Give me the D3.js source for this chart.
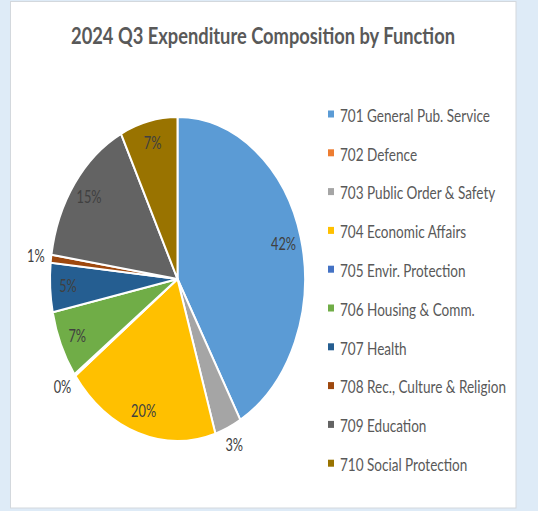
<!DOCTYPE html>
<html>
<head>
<meta charset="utf-8">
<script src="https://cdn.jsdelivr.net/npm/d3@7"></script>
<style>
  html, body { margin: 0; padding: 0; background: #deebf7; }
  svg { display: block; }
</style>
</head>
<body>
<svg id="chart" width="538" height="511"></svg>
<script>
const title = "2024 Q3 Expenditure Composition by Function";
const categories = [
  "701 General Pub. Service",
  "702 Defence",
  "703 Public Order & Safety",
  "704 Economic Affairs",
  "705 Envir. Protection",
  "706 Housing & Comm.",
  "707 Health",
  "708 Rec., Culture & Religion",
  "709 Education",
  "710 Social Protection"
];
const values = [41.8, 0, 3.4, 19.6, 0.2, 6.7, 4.9, 0.8, 15.3, 7.3];
const colors = ["#5b9bd5", "#ed7d31", "#a5a5a5", "#ffc000", "#4472c4",
                "#70ad47", "#255e91", "#9e480e", "#636363", "#997300"];

const W = 538, H = 511;
const FONT = "Lato, 'Open Sans', sans-serif";
const svg = d3.select("#chart");

// background panel
svg.append("rect").attr("width", W).attr("height", H).attr("fill", "#deebf7");
svg.append("rect")
  .attr("x", 10.5).attr("y", 1.5).attr("width", 505.5).attr("height", 506.5)
  .attr("fill", "#ffffff").attr("stroke", "#d3d8dd").attr("stroke-width", 1);

// helper: compress text horizontally to a target width
function squeeze(sel, x, y, sx) {
  sel.attr("transform", `translate(${x},${y}) scale(${sx},1)`);
}

// title
const t = svg.append("text")
  .attr("text-anchor", "middle")
  .attr("dy", "0.36em")
  .attr("font-family", FONT)
  .attr("font-weight", "bold")
  .attr("font-size", 22.4)
  .attr("fill", "#595959")
  .text(title);
const tsx = 384 / t.node().getComputedTextLength();
squeeze(t, 263, 35.5, tsx);

// pie
const cx = 177.5, cy = 279, R = 127.5, ky = 1.27;
const pie = d3.pie().sort(null).value(d => d.v).startAngle(0).endAngle(2 * Math.PI);
const data = values.map((v, i) => ({ v, i, name: categories[i] }));
const arcs = pie(data);
const arc = d3.arc().innerRadius(0).outerRadius(R);

const g = svg.append("g").attr("transform", `translate(${cx},${cy}) scale(1,${ky})`);
g.selectAll("path")
  .data(arcs.filter(d => d.data.v > 0))
  .join("path")
  .attr("d", arc)
  .attr("fill", d => colors[d.data.i])
  .attr("stroke", "#ffffff")
  .attr("stroke-width", 2)
  .attr("vector-effect", "non-scaling-stroke");

// labels
const inArc = d3.arc().innerRadius(R * 0.86).outerRadius(R * 0.86);
const outArc = d3.arc().innerRadius(R * 1.12).outerRadius(R * 1.12);
const lg = svg.append("g");
const labelSel = lg.selectAll("text")
  .data(arcs.filter(d => d.data.v > 0))
  .join("text")
  .attr("text-anchor", "middle")
  .attr("dy", "0.36em")
  .attr("font-family", FONT)
  .attr("font-size", 16.8)
  .attr("fill", "#404040")
  .text(d => Math.round(d.data.v) + "%");
// measure a 3-char label for compression factor
let lsx = 1;
labelSel.each(function(d) {
  if (Math.round(d.data.v) === 42) lsx = 25 / this.getComputedTextLength();
});
labelSel.each(function(d) {
  const c = (d.data.v >= 4 ? inArc : outArc).centroid(d);
  squeeze(d3.select(this), cx + c[0], cy + c[1] * ky, lsx);
});

// legend
const legY0 = 115.5, legStep = 38.8;
const leg = svg.append("g");
const rows = leg.selectAll("g").data(categories).join("g");
rows.append("rect")
  .attr("x", 328).attr("y", (d, i) => legY0 + i * legStep - 1.5 - 3.5)
  .attr("width", 6).attr("height", 7)
  .attr("fill", (d, i) => colors[i]);
const ltexts = rows.append("text")
  .attr("dy", "0.36em")
  .attr("font-family", FONT)
  .attr("font-size", 17.4)
  .attr("fill", "#595959")
  .text(d => d);
const lgsx = 150 / ltexts.node().getComputedTextLength();
ltexts.each(function(d, i) {
  squeeze(d3.select(this), 340, legY0 + i * legStep, lgsx);
});
</script>
</body>
</html>
